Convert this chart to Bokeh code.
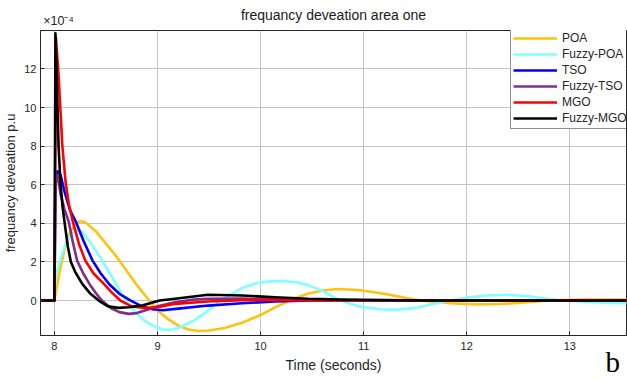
from bokeh.plotting import figure
from bokeh.models import Legend, LegendItem, FixedTicker, Range1d, LinearAxis
from bokeh.embed import file_html
from bokeh.resources import INLINE

# ---- data (values in units of 1e-4 p.u) ----
poa_t = [7.86, 8.0, 8.05, 8.1, 8.15, 8.2, 8.25, 8.3, 8.4, 8.5, 8.6, 8.7, 8.8, 8.92, 9.0, 9.1, 9.2, 9.3,
         9.4, 9.5, 9.65, 9.82, 10.0, 10.14, 10.3, 10.46, 10.6, 10.75, 10.95, 11.2, 11.4, 11.55, 11.84, 12.1,
         12.3, 12.5, 12.8, 13.1, 13.6]
poa_v = [0, 0, 1.5, 2.7, 3.5, 3.95, 4.12, 4.05, 3.6, 2.95, 2.3, 1.55, 0.8, 0.0, -0.5, -0.95, -1.3, -1.5,
         -1.58, -1.55, -1.42, -1.15, -0.75, -0.35, 0.05, 0.35, 0.52, 0.6, 0.55, 0.35, 0.15, 0.0, -0.14, -0.2,
         -0.18, -0.13, 0.0, 0.05, 0.05]

fpoa_t = [7.86, 8.0, 8.01, 8.05, 8.1, 8.15, 8.21, 8.27, 8.35, 8.45, 8.55, 8.62, 8.69, 8.77, 8.85, 8.95, 9.05,
          9.12, 9.2, 9.35, 9.49, 9.6, 9.72, 9.82, 9.95, 10.07, 10.2, 10.35, 10.46, 10.6, 10.77, 10.95, 11.15,
          11.33, 11.5, 11.65, 11.84, 12.0, 12.2, 12.4, 12.6, 12.8, 12.94, 13.2, 13.4, 13.6]
fpoa_v = [0, 0, 1.2, 2.0, 2.8, 3.35, 3.65, 3.55, 3.0, 2.2, 1.3, 0.65, 0.0, -0.5, -0.94, -1.3, -1.5,
          -1.52, -1.42, -1.05, -0.52, -0.05, 0.35, 0.65, 0.88, 0.98, 1.02, 0.95, 0.8, 0.5, 0.0, -0.3, -0.45,
          -0.48, -0.38, -0.2, 0.0, 0.15, 0.26, 0.3, 0.22, 0.08, 0.0, -0.08, -0.12, -0.14]

tso_t = [7.86, 8.0, 8.01, 8.03, 8.06, 8.1, 8.15, 8.21, 8.29, 8.37, 8.45, 8.53, 8.63, 8.74, 8.85, 8.95,
         9.05, 9.2, 9.49, 9.82, 10.14, 10.5, 13.6]
tso_v = [0, 0, 6.0, 6.7, 6.5, 5.6, 4.7, 4.06, 3.0, 2.07, 1.4, 0.86, 0.35, 0.0, -0.3, -0.45,
         -0.5, -0.42, -0.26, -0.14, -0.05, 0.0, 0.0]

ftso_t = [7.86, 8.0, 8.01, 8.03, 8.06, 8.1, 8.14, 8.18, 8.22, 8.28, 8.34, 8.4, 8.46, 8.55, 8.63, 8.72,
          8.8, 8.9, 9.0, 9.17, 9.35, 9.49, 9.82, 10.2, 10.6, 11.0, 13.6]
ftso_v = [0, 0, 6.0, 6.5, 5.5, 4.7, 4.06, 3.0, 2.07, 1.4, 0.86, 0.4, 0.0, -0.4, -0.6, -0.69,
          -0.65, -0.48, -0.3, -0.09, 0.05, 0.09, 0.1, 0.05, 0.02, 0.0, 0.0]

mgo_t = [7.86, 8.0, 8.015, 8.04, 8.077, 8.11, 8.14, 8.18, 8.24, 8.3, 8.38, 8.48, 8.56, 8.64, 8.75, 8.88,
         9.0, 9.17, 9.49, 9.82, 10.2, 10.6, 13.6]
mgo_v = [0, 0, 13.6, 11.7, 8.0, 6.06, 5.0, 4.06, 2.9, 2.07, 1.4, 0.86, 0.4, 0.0, -0.3, -0.38,
         -0.35, -0.17, -0.05, 0.02, 0.02, 0.0, 0.0]

fmgo_t = [7.86, 8.0, 8.01, 8.02, 8.03, 8.04, 8.06, 8.08, 8.1, 8.13, 8.16, 8.2, 8.27, 8.35, 8.43, 8.52,
          8.62, 8.72, 8.85, 9.02, 9.17, 9.49, 9.82, 10.14, 10.46, 10.78, 11.2, 11.6, 13.6]
fmgo_v = [0, 0, 13.85, 12.0, 10.0, 8.0, 6.0, 4.8, 4.0, 2.8, 2.0, 1.5, 0.86, 0.35, 0.0, -0.3,
          -0.38, -0.35, -0.26, 0.0, 0.09, 0.3, 0.26, 0.17, 0.09, 0.05, 0.02, 0.0, 0.0]

names = ["POA", "Fuzzy-POA", "TSO", "Fuzzy-TSO", "MGO", "Fuzzy-MGO"]
colors = ["#FFC20E", "#80FFFF", "#0000FF", "#7E2F8E", "#FF0000", "#000000"]
series = [(poa_t, poa_v), (fpoa_t, fpoa_v), (tso_t, tso_v), (ftso_t, ftso_v), (mgo_t, mgo_v), (fmgo_t, fmgo_v)]

x_ticks = [8, 9, 10, 11, 12, 13]
y_ticks = [0, 2, 4, 6, 8, 10, 12]
title_text = "frequancy deveation area one"
exponent_text = "\u00d710\u207b\u2074"
exponent_at = 8.04      # x position (data) where the exponent note sits
panel_letter = "b"
letter_at = 13.416      # x position (data) of the panel letter

FONT = "Liberation Sans"
TXT = "#262626"

p = figure(width=627, height=381, output_backend="svg", toolbar_location=None,
           x_range=Range1d(7.865, 13.55), y_range=Range1d(-1.81, 13.99))
p.min_border_left = 38
p.min_border_right = 1
p.min_border_top = 30
p.min_border_bottom = 46
p.background_fill_color = "white"
p.border_fill_color = "white"
p.outline_line_color = TXT
p.outline_line_width = 1

for ax in (p.xaxis[0], p.yaxis[0]):
    ax.axis_line_color = TXT
    ax.major_tick_in = 4
    ax.major_tick_out = 0
    ax.minor_tick_line_color = None
    ax.major_tick_line_color = TXT
    ax.major_label_text_font = FONT
    ax.major_label_text_font_size = "11px"
    ax.major_label_text_color = TXT
    ax.axis_label_text_font = FONT
    ax.axis_label_text_font_style = "normal"
    ax.axis_label_text_color = TXT

p.xaxis.ticker = FixedTicker(ticks=x_ticks)
p.yaxis.ticker = FixedTicker(ticks=y_ticks)
p.xaxis.axis_label = "Time (seconds)"
p.xaxis.axis_label_text_font_size = "14px"
p.xaxis.major_label_standoff = 6
p.xaxis.axis_label_standoff = 4
p.yaxis.axis_label = "frequancy deveation p.u"
p.yaxis.axis_label_text_font_size = "13px"
p.yaxis.major_label_standoff = 4
p.yaxis.axis_label_standoff = 3

p.xgrid.ticker = FixedTicker(ticks=x_ticks)
p.ygrid.ticker = FixedTicker(ticks=y_ticks)
p.xgrid.grid_line_color = "#c4c4c4"
p.ygrid.grid_line_color = "#c4c4c4"

# top band: exponent note (tick label) + chart title (axis label), no line / ticks
top = LinearAxis(ticker=FixedTicker(ticks=[exponent_at]),
                 major_label_overrides={exponent_at: exponent_text})
top.axis_line_color = None
top.major_tick_line_color = None
top.minor_tick_line_color = None
top.major_tick_in = 0
top.major_tick_out = 0
top.major_label_standoff = 3
top.major_label_text_font = FONT
top.major_label_text_font_size = "12.5px"
top.major_label_text_color = TXT
top.axis_label = title_text
top.axis_label_text_font = FONT
top.axis_label_text_font_size = "14px"
top.axis_label_text_font_style = "normal"
top.axis_label_text_color = "#1a1a1a"
top.axis_label_standoff = -12
p.add_layout(top, "above")

# panel letter under the bottom-right corner
low = LinearAxis(ticker=FixedTicker(ticks=[letter_at]),
                 major_label_overrides={letter_at: panel_letter})
low.axis_line_color = None
low.major_tick_line_color = None
low.minor_tick_line_color = None
low.major_tick_in = 0
low.major_tick_out = 0
low.major_label_standoff = -30
low.major_label_text_font = "Liberation Serif"
low.major_label_text_font_size = "29px"
low.major_label_text_color = "#000000"
p.add_layout(low, "below")

items = []
for (t, v), name, c in zip(series, names, colors):
    r = p.line(t, v, line_color=c, line_width=2.6, line_join="round")
    items.append(LegendItem(label=name, renderers=[r]))

legend = Legend(items=items, location=(470, 206))
legend.glyph_width = 44
legend.glyph_height = 16
legend.label_height = 16
legend.spacing = 0
legend.padding = 2
legend.margin = 0
legend.label_standoff = 5
legend.label_text_font = FONT
legend.label_text_font_size = "12px"
legend.label_text_color = TXT
legend.border_line_color = TXT
legend.border_line_width = 1
legend.background_fill_color = "white"
legend.background_fill_alpha = 1
p.add_layout(legend)

open("out.html", "w").write(file_html(p, INLINE))
